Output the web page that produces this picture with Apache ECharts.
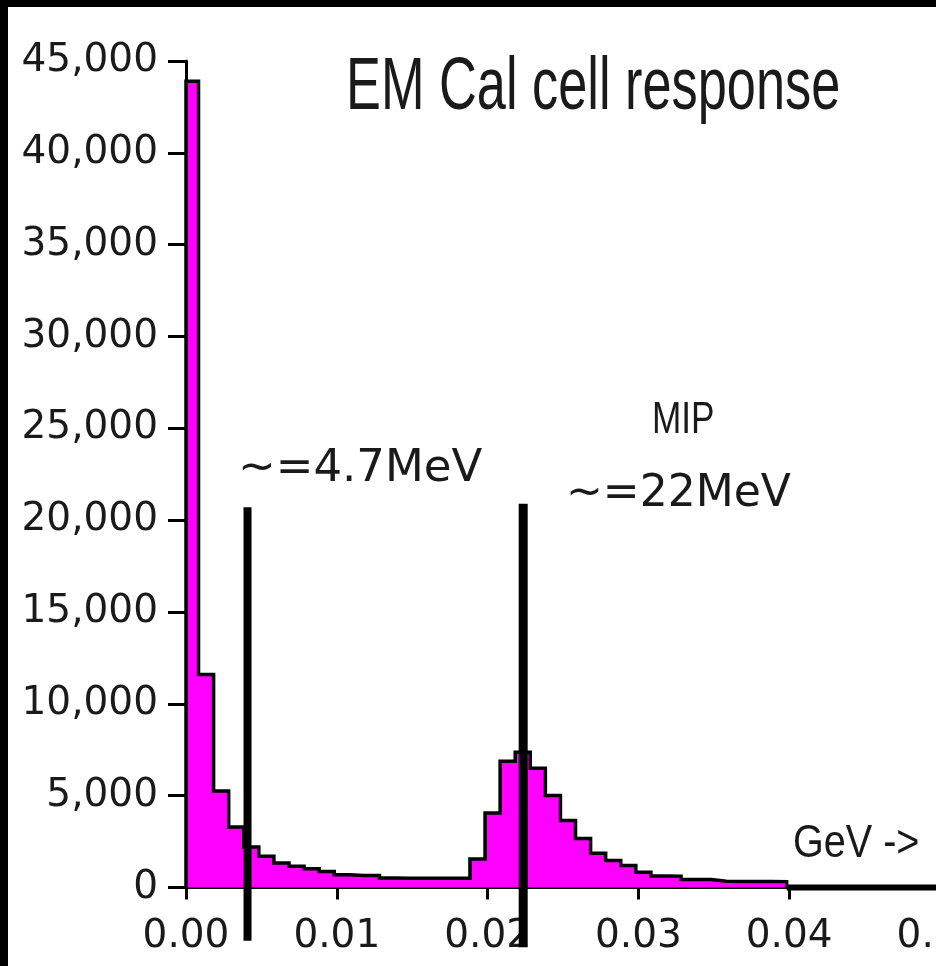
<!DOCTYPE html>
<html>
<head>
<meta charset="utf-8">
<script src="https://cdn.jsdelivr.net/npm/echarts@6/dist/echarts.min.js"></script>
<style>
html,body{margin:0;padding:0;background:#fff;}
#chart{width:936px;height:966px;}
</style>
</head>
<body>
<div id="chart"></div>
<script>
// Histogram bin edges (GeV) and counts per bin
const binEdges = [0, 0.00083, 0.00183, 0.00283, 0.00383, 0.00483, 0.00583, 0.00683, 0.00783, 0.00883,
  0.00983, 0.01083, 0.01183, 0.01283, 0.01383, 0.01483, 0.01583, 0.01683, 0.01783, 0.01883,
  0.01983, 0.02083, 0.02183, 0.02283, 0.02383, 0.02483, 0.02583, 0.02683, 0.02783, 0.02883,
  0.02983, 0.03083, 0.03183, 0.03283, 0.03383, 0.03483, 0.03583, 0.03683, 0.03783, 0.03883, 0.03983];
const binCounts = [43900, 11600, 5250, 3300, 2200, 1700, 1330, 1160, 1020, 870,
  700, 650, 650, 520, 500, 500, 500, 500, 500, 1550,
  4050, 6870, 7360, 6490, 5010, 3650, 2670, 1870, 1470, 1200,
  830, 630, 620, 440, 430, 340, 330, 330, 330, 320];

// Annotation marker lines (GeV, counts)
const markerX = [0.00408, 0.02236];
const markerTop = [20700, 20900];
const markerBottom = [-2900, -3250];
const markerWidth = [8, 9];

// Axis ticks
const xTicks = { min: 0, max: 0.05, interval: 0.01 };
const yTicks = { min: 0, max: 45000, interval: 5000 };

// Text
const titleText = 'EM Cal cell response';
const mipText = 'MIP';
const label1 = '~=4.7MeV';
const label2 = '~=22MeV';
const unitText = 'GeV ->';

const histData = [[binEdges[0], 0]];
for (let i = 0; i < binCounts.length; i++) histData.push([binEdges[i], binCounts[i]]);
histData.push([binEdges[binEdges.length - 1], 0]);

const chart = echarts.init(document.getElementById('chart'), null, { renderer: 'canvas' });

const markerSeries = markerX.map((x, i) => ({
  type: 'line',
  data: [[x, markerTop[i]], [x, markerBottom[i]]],
  symbol: 'none',
  clip: false,
  silent: true,
  z: 5,
  lineStyle: { color: '#000', width: markerWidth[i], cap: 'butt' },
  animation: false
}));

const textStyleBase = { fill: '#1a1a1a', textAlign: 'left', verticalAlign: 'middle' };

chart.setOption({
  animation: false,
  backgroundColor: '#fff',
  grid: { left: 186, top: 61, right: -4, bottom: 78.5, containLabel: false, outerBoundsMode: 'none' },
  xAxis: {
    type: 'value', min: xTicks.min, max: xTicks.max, interval: xTicks.interval,
    splitLine: { show: false },
    axisLine: { onZero: false, lineStyle: { color: '#000', width: 3 } },
    axisTick: { show: true, length: 12, lineStyle: { color: '#000', width: 3 } },
    axisLabel: {
      margin: 30, color: '#1a1a1a', fontFamily: 'DejaVu Sans', fontSize: 39,
      showMaxLabel: true, hideOverlap: false,
      formatter: v => v.toFixed(2)
    }
  },
  yAxis: {
    type: 'value', min: yTicks.min, max: yTicks.max, interval: yTicks.interval,
    splitLine: { show: false },
    axisLine: { show: true, lineStyle: { color: '#000', width: 3 } },
    axisTick: { show: true, length: 18, lineStyle: { color: '#000', width: 3 } },
    axisLabel: {
      margin: 28, color: '#1a1a1a', fontFamily: 'DejaVu Sans', fontSize: 39,
      formatter: v => v.toLocaleString('en-US')
    }
  },
  series: [
    {
      type: 'line',
      data: histData,
      step: 'end',
      symbol: 'none',
      silent: true,
      z: 3,
      lineStyle: { color: '#000', width: 3.5, join: 'miter' },
      areaStyle: { color: '#ff00ff', opacity: 1 }
    },
    {
      type: 'line',
      data: [[binEdges[binEdges.length - 1], 0], [xTicks.max, 0]],
      symbol: 'none',
      clip: false,
      silent: true,
      z: 4,
      lineStyle: { color: '#000', width: 6 }
    }
  ].concat(markerSeries),
  graphic: [
    { type: 'text', x: 346, y: 89, scaleX: 0.707, z: 10,
      style: Object.assign({ text: titleText, font: '74px "Liberation Sans", Arial, sans-serif' }, textStyleBase) },
    { type: 'text', x: 652, y: 421, scaleX: 0.8, z: 10,
      style: Object.assign({ text: mipText, font: '44px "Liberation Sans", Arial, sans-serif' }, textStyleBase) },
    { type: 'text', x: 793, y: 844, scaleX: 0.86, z: 10,
      style: Object.assign({ text: unitText, font: '46px "Liberation Sans", Arial, sans-serif' }, textStyleBase) },
    { type: 'text', x: 238, y: 469.5, z: 10,
      style: Object.assign({ text: label1, font: '45px "DejaVu Sans", sans-serif' }, textStyleBase) },
    { type: 'text', x: 566, y: 495, z: 10,
      style: Object.assign({ text: label2, font: '44px "DejaVu Sans", sans-serif' }, textStyleBase) },
    { type: 'rect', shape: { x: 0, y: 0, width: 8, height: 966 }, style: { fill: '#000' }, z: 20 },
    { type: 'rect', shape: { x: 0, y: 0, width: 936, height: 7 }, style: { fill: '#000' }, z: 20 }
  ]
});
</script>
</body>
</html>
